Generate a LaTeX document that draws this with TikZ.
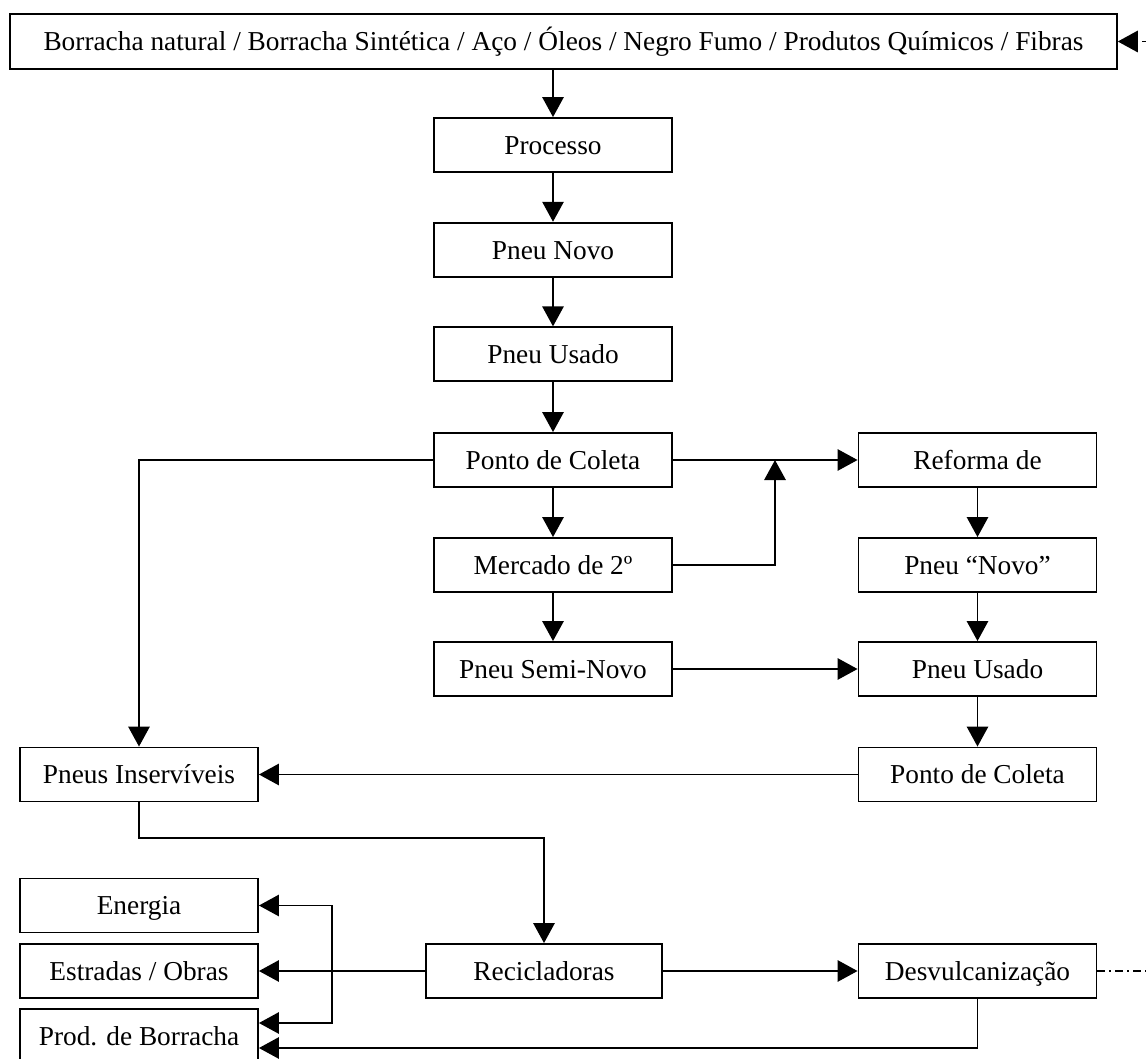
\documentclass[tikz,border=0pt]{standalone}
\usepackage{fontspec}
\setmainfont{Liberation Serif}
\usetikzlibrary{arrows.meta}
\begin{document}
\begin{tikzpicture}[x=0.75pt,y=-0.75pt,
  box/.style={draw,line width=1.4pt,minimum height=40.5pt,minimum width=178.5pt,
    inner sep=0pt,text height=17pt,text depth=3pt,
    font=\fontsize{20.5}{24}\selectfont},
  flow/.style={line width=1.4pt,-{Triangle[length=15pt,width=16pt]}},
  link/.style={line width=1.4pt}]
\useasboundingbox (0,0) rectangle (1146,1059);
\clip (0,0) rectangle (1146,1059);

% raw materials
\node[box,minimum width=830pt,minimum height=41pt] (src) at (563.5,41.5)
  {Borracha natural / Borracha Sintética / Aço / Óleos / Negro Fumo / Produtos Químicos / Fibras};

% main column
\node[box] (proc)   at (553,145)   {Processo};
\node[box] (novo)   at (553,249.7) {Pneu Novo};
\node[box] (usado)  at (553,354.3) {Pneu Usado};
\node[box] (coleta) at (553,460)   {Ponto de Coleta};
\node[box] (merc)   at (553,565)   {Mercado de 2º};
\node[box] (semi)   at (553,669)   {Pneu Semi-Novo};

% retreading column
\node[box] (ref)     at (977.5,460)   {Reforma de};
\node[box] (novob)   at (977.5,565)   {Pneu “Novo”};
\node[box] (usadob)  at (977.5,669)   {Pneu Usado};
\node[box] (coletab) at (977.5,774.5) {Ponto de Coleta};

% end of life
\node[box] (inserv)   at (139,774.5) {Pneus Inservíveis};
\node[box] (energia)  at (139,905.5) {Energia};
\node[box] (estradas) at (139,971)   {Estradas / Obras};
\node[box] (prod)     at (139,1036)  {Prod. de Borracha};
\node[box,minimum width=177pt] (recic) at (544,971) {Recicladoras};
\node[box] (desv) at (977.5,971) {Desvulcanização};

% helper points
\coordinate (join) at (775,460);
\coordinate (bend) at (544,838);
\coordinate (fork) at (332,971);
\coordinate (edget) at (1146,41.5);
\coordinate (edgeb) at (1146,971);

% connectors
\draw[flow] (src.south -| proc.north) -- (proc.north);
\draw[flow] (proc) -- (novo);
\draw[flow] (novo) -- (usado);
\draw[flow] (usado) -- (coleta);
\draw[flow] (coleta) -- (merc);
\draw[flow] (merc) -- (semi);
\draw[flow] (coleta) -- (ref);
\draw[flow] (merc.east) -| (join);
\draw[flow] (coleta.west) -| (inserv.north);
\draw[flow] (ref) -- (novob);
\draw[flow] (novob) -- (usadob);
\draw[flow] (usadob) -- (coletab);
\draw[flow] (semi) -- (usadob);
\draw[flow] (coletab) -- (inserv);
\draw[flow] (inserv.south) |- (bend) -- (recic.north);
\draw[flow] (recic) -- (estradas);
\draw[flow] (fork) |- (energia.east);
\draw[flow] (fork) |- ([yshift=9.75pt]prod.east);
\draw[flow] (recic) -- (desv);
\draw[flow] (desv.south) |- ([yshift=-9pt]prod.east);
\draw[link,dash pattern=on 6pt off 3pt on 1.5pt off 3pt] (desv.east) -- (edgeb);
\draw[flow,dash pattern=on 3pt off 3pt] (edget) -- (src.east);
\end{tikzpicture}
\end{document}
